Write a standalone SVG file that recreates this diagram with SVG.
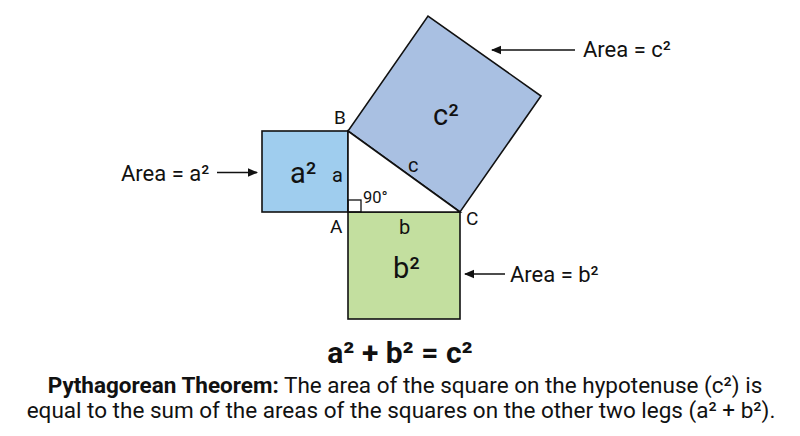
<svg xmlns="http://www.w3.org/2000/svg" width="800" height="436" viewBox="0 0 800 436">
<defs>
<marker id="ah" viewBox="0 0 10 10" refX="9" refY="5" markerWidth="10" markerHeight="10" markerUnits="userSpaceOnUse" orient="auto">
<path d="M0,0.8 L10,5 L0,9.2 Z" fill="#111"/>
</marker>
<style>
text{font-family:Roboto,"Liberation Sans",sans-serif;fill:#111}
.sq{stroke:#111;stroke-width:1.6;stroke-linejoin:miter}
.big{font-size:29px}
.vtx{font-size:19px}
.leg{font-size:20px}
.area{font-size:22px}
.eq{font-size:30px;font-weight:700}
.para{font-size:22.5px}
.b{font-weight:700}
.conn line{stroke:#111;stroke-width:1.5;marker-end:url(#ah)}
</style>
</defs>
<rect width="800" height="436" fill="#fff"/>
<g id="square-a">
<rect class="sq" x="262" y="131" width="86" height="81" fill="#9fcdee"/>
<text class="big" x="290" y="183">a²</text>
</g>
<g id="square-b">
<rect class="sq" x="348" y="212" width="112" height="107" fill="#c3df9f"/>
<text class="big" x="393" y="278">b²</text>
</g>
<g id="square-c">
<polygon class="sq" points="348,131 460,212 541,96 428,16" fill="#a9c0e2"/>
<text class="big" x="433" y="125">c²</text>
</g>
<g id="triangle">
<polygon class="sq" points="348,131 348,212 460,212" fill="#fff"/>
<rect x="348" y="200" width="13" height="12" fill="none" stroke="#111" stroke-width="1.3"/>
<text x="363" y="203" style="font-size:16.5px">90°</text>
<text class="leg" x="332" y="182">a</text>
<text class="leg" x="399" y="234">b</text>
<text class="leg" x="408" y="172">c</text>
<text class="vtx" x="334" y="124">B</text>
<text class="vtx" x="330" y="233">A</text>
<text class="vtx" x="466" y="225">C</text>
</g>
<g id="connectors" class="conn">
<line x1="217" y1="172.5" x2="257" y2="172.5"/>
<line x1="575" y1="50" x2="492" y2="50"/>
<line x1="505" y1="274" x2="465" y2="274"/>
</g>
<g id="label-a">
<text class="area" x="121" y="181">Area = a²</text>
</g>
<g id="label-c">
<text class="area" x="583" y="57">Area = c²</text>
</g>
<g id="label-b">
<text class="area" x="510" y="282">Area = b²</text>
</g>
<g id="caption">
<text class="eq" x="400" y="363" text-anchor="middle">a² + b² = c²</text>
<text class="para" x="405" y="393" text-anchor="middle"><tspan class="b">Pythagorean Theorem:</tspan> The area of the square on the hypotenuse (c²) is</text>
<text class="para" x="401" y="418" text-anchor="middle">equal to the sum of the areas of the squares on the other two legs (a² + b²).</text>
</g>
</svg>
